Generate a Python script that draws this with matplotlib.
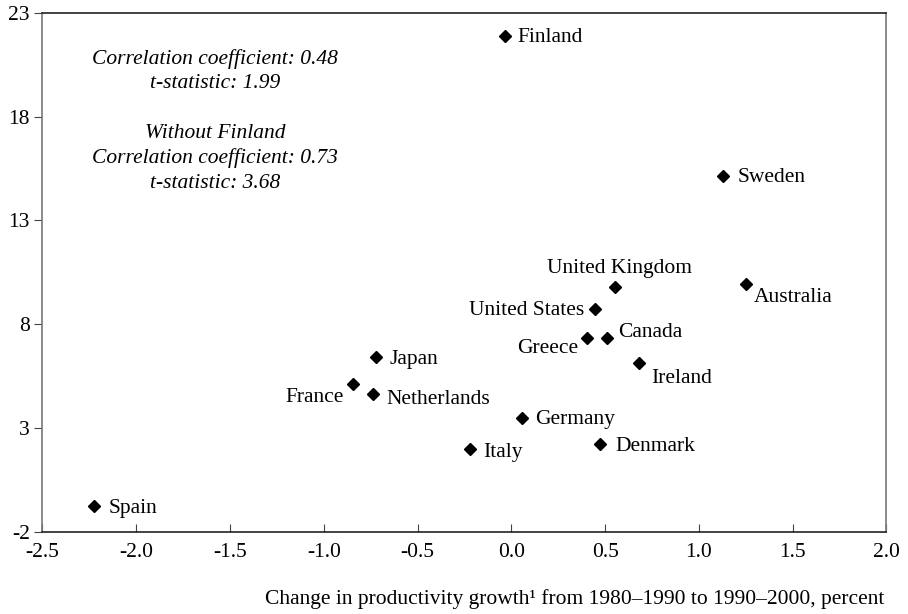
import matplotlib.pyplot as plt

plt.rcParams["font.family"] = ["Liberation Serif", "DejaVu Serif"]

# Change in productivity growth vs. change in ...
countries = ["Finland", "Sweden", "Australia", "United Kingdom", "United States",
             "Canada", "Greece", "Ireland", "Japan", "France", "Netherlands",
             "Germany", "Italy", "Denmark", "Spain"]
x_vals = [-0.035, 1.13, 1.25, 0.555, 0.447, 0.509, 0.402, 0.681, -0.722,
          -0.845, -0.74, 0.054, -0.22, 0.472, -2.224]
y_vals = [21.88, 15.14, 9.94, 9.78, 8.72, 7.32, 7.35, 6.12, 6.41,
          5.11, 4.63, 3.5, 2.0, 2.23, -0.75]

stats_lines = ["Correlation coefficient: 0.48", "t-statistic: 1.99",
               "Without Finland", "Correlation coefficient: 0.73", "t-statistic: 3.68"]

# label offsets in pixels (dx right, dy up) and alignment
label_pos = {
    "Finland": (13, -2, "left"),
    "Sweden": (14, -2, "left"),
    "Australia": (8, -14, "left"),
    "United Kingdom": (4, 19, "center"),
    "United States": (-11, -1, "right"),
    "Canada": (11, 6, "left"),
    "Greece": (-9, -11, "right"),
    "Ireland": (12, -15, "left"),
    "Japan": (14, -2, "left"),
    "France": (-9, -13, "right"),
    "Netherlands": (14, -5, "left"),
    "Germany": (14, -2, "left"),
    "Italy": (13, -4, "left"),
    "Denmark": (16, -2, "left"),
    "Spain": (14, -2, "left"),
}

fig = plt.figure(figsize=(9.08, 6.14), dpi=100)
ax = fig.add_axes([0.0468, 0.1336, 0.9295, 0.8457])

ax.plot(x_vals, y_vals, "D", color="black", markersize=6.5, linestyle="none")

for name, x, y in zip(countries, x_vals, y_vals):
    dx, dy, ha = label_pos[name]
    ax.annotate(name, (x, y), xytext=(dx, dy), textcoords="offset pixels",
                ha=ha, va="center", fontsize=15.5)

ax.set_xlim(-2.5, 2.0)
ax.set_ylim(-2, 23)
ax.set_xticks([-2.5, -2.0, -1.5, -1.0, -0.5, 0.0, 0.5, 1.0, 1.5, 2.0])
ax.set_xticklabels(["-2.5", "-2.0", "-1.5", "-1.0", "-0.5", "0.0", "0.5", "1.0", "1.5", "2.0"])
ax.set_yticks([-2, 3, 8, 13, 18, 23])
ax.set_yticklabels(["-2", "3", "8", "13", "18", "23"])
ax.tick_params(axis="x", direction="in", length=6, labelsize=15.5, pad=8, color="#444444")
ax.tick_params(axis="y", direction="out", length=6, labelsize=15.5, pad=3, color="#444444")

ax.spines["left"].set_color("#777777")
ax.spines["right"].set_color("#777777")
ax.spines["top"].set_color("#222222")
ax.spines["bottom"].set_color("#222222")
for s in ax.spines.values():
    s.set_linewidth(1.2)

# statistics text, one line at a time
for line, ypix in zip(stats_lines, [59, 84, 133, 158, 184]):
    fig.text(215 / 908, 1 - ypix / 614, line, fontsize=15.5, style="italic",
             ha="center", va="center")

fig.text(884 / 908, 1 - 599 / 614,
         "Change in productivity growth\u00b9 from 1980\u20131990 to 1990\u20132000, percent",
         fontsize=15.5, ha="right", va="center")

plt.savefig("out.png", dpi=100)
